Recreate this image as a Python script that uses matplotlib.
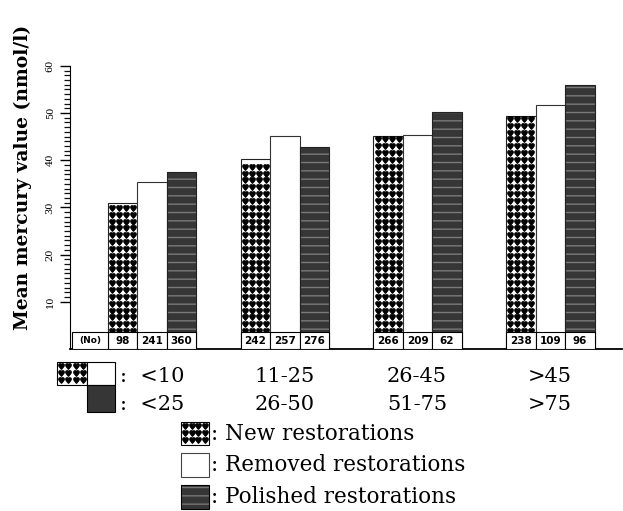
import matplotlib
matplotlib.use('Agg')
import matplotlib.pyplot as plt
from matplotlib.patches import Rectangle
from matplotlib.ticker import FixedLocator
import numpy as np

row1_labels = ['<10', '11-25', '26-45', '>45']
row2_labels = ['<25', '26-50', '51-75', '>75']
new_vals = [31.0, 40.2, 45.1, 49.4]
removed_vals = [35.4, 45.2, 45.4, 51.7]
polished_vals = [37.4, 42.9, 50.3, 56.0]
new_n = [98, 242, 266, 238]
removed_n = [241, 257, 209, 109]
polished_n = [360, 276, 62, 96]

plt.rcParams['font.family'] = ['DejaVu Serif', 'DejaVu Sans']
W, H = 623, 511
fig = plt.figure(figsize=(W / 100, H / 100), dpi=100)
ax = fig.add_axes([70 / W, 1 - 349 / H, 552 / W, 299 / H])
ax.set_xlim(-0.618, 3.54)
ax.set_ylim(0, 299 / 4.72)

x = np.arange(len(row1_labels))
w = 0.222
dark = '#363636'
heart = '$\u2665$'


def hearts(cx, top):
    # heart pattern inside a "new" bar, 4 columns, rows every ~7 px
    cols = cx + np.array([-10.5, -3.5, 3.5, 10.5]) / 132.7
    rows = np.arange(0.9, top - 0.6, 1.45)
    xx, yy = np.meshgrid(cols, rows)
    ax.plot(xx.ravel(), yy.ravel(), linestyle='none', marker=heart,
            markersize=3.9, color='black', zorder=3)


ax.bar(x - w, new_vals, w, color='white', edgecolor='#222', linewidth=0.8, zorder=2)
for xi, v in zip(x - w, new_vals):
    hearts(xi, v)
ax.bar(x, removed_vals, w, color='white', edgecolor='#333', linewidth=0.8, zorder=2)
ax.bar(x + w, polished_vals, w, color=dark, edgecolor='#7a7a7a', hatch='--',
       linewidth=0, zorder=2)
ax.bar(x + w, polished_vals, w, fill=False, edgecolor='#222', linewidth=0.8, zorder=2)

box_h = 3.6
for xs, ns in [(x - w, new_n), (x, removed_n), (x + w, polished_n)]:
    for xi, n in zip(xs, ns):
        ax.add_patch(Rectangle((xi - w / 2, 0), w, box_h, facecolor='white',
                               edgecolor='black', linewidth=0.8, zorder=4))
        ax.text(xi, box_h / 2, str(n), ha='center', va='center', fontsize=7.5,
                family='DejaVu Sans', weight='bold', zorder=5)
ax.add_patch(Rectangle((-0.603, 0), 0.271, box_h, facecolor='white',
                       edgecolor='black', linewidth=0.8, zorder=4))
ax.text(-0.4675, box_h / 2, '(No)', ha='center', va='center', fontsize=6.5,
        family='DejaVu Sans', weight='bold', zorder=5)

for s in ['top', 'right']:
    ax.spines[s].set_visible(False)
ax.spines['left'].set_bounds(0, 60)
ax.spines['bottom'].set_linewidth(1.3)
ax.set_xticks([])
ax.yaxis.set_major_locator(FixedLocator(range(10, 61, 10)))
ax.yaxis.set_minor_locator(FixedLocator(np.arange(10, 60.5, 1.0)))
ax.tick_params(axis='y', which='major', direction='out', length=7, width=1,
               labelsize=7, labelrotation=90, pad=4)
ax.tick_params(axis='y', which='minor', direction='out', length=4.5, width=0.9,
               color='#111')
for lab in ax.get_yticklabels():
    lab.set_va('center')

fig.text(23 / W, 1 - 177 / H, 'Mean mercury value (nmol/l)', rotation=90,
         ha='center', va='center', fontsize=13.5, weight='bold')

# overlay in pixel coordinates for the category labels and legends
ov = fig.add_axes([0, 0, 1, 1], zorder=5)
ov.set_xlim(0, W)
ov.set_ylim(H, 0)
ov.axis('off')


def px_hearts(x0, y0, bw, bh):
    cols = x0 + np.array([4, 11, 18, 25]) * bw / 29
    rows = np.arange(y0 + 4.5, y0 + bh - 3, 7)
    xx, yy = np.meshgrid(cols, rows)
    ov.plot(xx.ravel(), yy.ravel(), linestyle='none', marker=heart,
            markersize=3.9, color='black')


# category key (top-left)
ov.add_patch(Rectangle((57, 362), 30, 23, facecolor='white', edgecolor='black', lw=0.8))
px_hearts(57, 362, 30, 23)
ov.add_patch(Rectangle((87, 362), 28, 23, facecolor='white', edgecolor='black', lw=0.8))
ov.add_patch(Rectangle((87, 385), 28, 27, facecolor=dark, edgecolor='black', lw=0.8))
ov.text(120, 376, ':  ' + row1_labels[0], ha='left', va='center', fontsize=15)
ov.text(120, 405, ':  ' + row2_labels[0], ha='left', va='center', fontsize=15)

group_px = [285, 417, 550]
for gx, l1, l2 in zip(group_px, row1_labels[1:], row2_labels[1:]):
    ov.text(gx, 376, l1, ha='center', va='center', fontsize=15)
    ov.text(gx, 405, l2, ha='center', va='center', fontsize=15)

# series legend (bottom)
entries = ['New restorations', 'Removed restorations', 'Polished restorations']
tops = [422, 453, 485]
for name, t in zip(entries, tops):
    if name.startswith('New'):
        ov.add_patch(Rectangle((181, t), 28, 23, facecolor='white', edgecolor='black', lw=0.8))
        px_hearts(181, t, 28, 23)
    elif name.startswith('Removed'):
        ov.add_patch(Rectangle((181, t), 28, 24, facecolor='white', edgecolor='#444', lw=0.8))
    else:
        ov.add_patch(Rectangle((181, t), 28, 24, facecolor=dark, edgecolor='#777',
                               hatch='--', lw=0))
        ov.add_patch(Rectangle((181, t), 28, 24, fill=False, edgecolor='black', lw=0.8))
    ov.text(211, t + 12, ': ' + name, ha='left', va='center', fontsize=15.5)

fig.savefig('out.png', dpi=100)
